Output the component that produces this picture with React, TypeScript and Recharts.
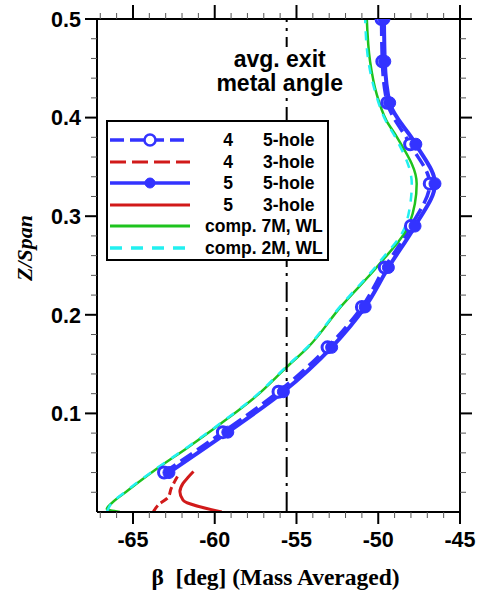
import React from 'react';
import { ComposedChart, Line, XAxis, YAxis, ReferenceLine, Legend } from 'recharts';

// probe traverse stations (Z/Span) and mass averaged exit angle (deg)
const Z_PROBE = [0.04, 0.081, 0.122, 0.167, 0.208, 0.248, 0.29, 0.333, 0.373, 0.415, 0.457, 0.5];
const BETA_4_5HOLE = [-63.1, -59.5, -56.1, -53.1, -51.0, -49.6, -48.0, -46.85, -48.05, -49.45, -49.75, -49.8];
const BETA_5_5HOLE = [-62.8, -59.2, -55.8, -52.85, -50.8, -49.38, -47.75, -46.53, -47.7, -49.3, -49.6, -49.65];

const Z_4_3HOLE = [0, 0.007, 0.015, 0.024, 0.03, 0.039];
const BETA_4_3HOLE = [-63.76, -63.46, -62.85, -62.66, -62.48, -62.17];
const Z_5_3HOLE = [0, 0.012, 0.0205, 0.029, 0.035, 0.041];
const BETA_5_3HOLE = [-59.57, -61.94, -62.13, -61.94, -61.64, -61.3];

const Z_COMP_7M = [0, 0.003, 0.009, 0.022, 0.0425, 0.066, 0.09, 0.117, 0.147, 0.167, 0.208, 0.252, 0.292, 0.333, 0.38, 0.397, 0.424, 0.457, 0.5];
const BETA_COMP_7M = [-65.8, -66.6, -66.3, -65.3, -63.65, -61.6, -59.6, -57.5, -55.6, -54.3, -52.3, -49.9, -48.1, -47.65, -48.85, -49.5, -50.1, -50.5, -50.7];
const Z_COMP_2M = [0, 0.009, 0.022, 0.0425, 0.066, 0.09, 0.117, 0.147, 0.167, 0.208, 0.252, 0.292, 0.333, 0.38, 0.397, 0.424, 0.457, 0.5];
const BETA_COMP_2M = [-66.6, -66.3, -65.35, -63.7, -61.65, -59.65, -57.55, -55.65, -54.35, -52.35, -50.0, -48.3, -47.95, -48.95, -49.55, -50.15, -50.6, -50.8];

const METAL_ANGLE = -55.6;

const X_MAJOR = [-65, -60, -55, -50, -45];
const X_MINOR = [-67, -66, -64, -63, -62, -61, -59, -58, -57, -56, -54, -53, -52, -51, -49, -48, -47, -46];
const Y_MAJOR = [0.1, 0.2, 0.3, 0.4, 0.5];
const Y_MINOR = [0.02, 0.04, 0.06, 0.08, 0.12, 0.14, 0.16, 0.18, 0.22, 0.24, 0.26, 0.28, 0.32, 0.34, 0.36, 0.38, 0.42, 0.44, 0.46, 0.48];

const BLUE = '#3333ff';
const RED = '#d11a1a';
const GREEN = '#1ec31e';
const CYAN = '#22f0f0';
const SANS = '"Liberation Sans", Arial, sans-serif';
const SERIF = '"Liberation Serif", "Times New Roman", serif';

const zip = (z: number[], v: number[]) => z.map((zz, i) => ({ z: zz, v: v[i] }));

const X_TICKS = [...X_MINOR, ...X_MAJOR].sort((a, b) => a - b);
const Y_TICKS = [...Y_MINOR, ...Y_MAJOR].sort((a, b) => a - b);

const isMajor = (list: number[], v: number) => list.some((m) => Math.abs(m - v) < 1e-9);
const MAJ = 12;
const MIN = 6;
const tickText = { fontFamily: SANS, fontWeight: 700, fontSize: 21.5, fill: '#000' };

function BottomTick({ x, y, payload }: any) {
  const major = isMajor(X_MAJOR, payload.value);
  return (
    <g>
      <line x1={x} x2={x} y1={y} y2={y + (major ? MAJ : MIN)} stroke={major ? '#000' : '#555'} strokeWidth={major ? 2 : 1} />
      {major && (
        <text x={x} y={y + 35} textAnchor="middle" style={tickText}>
          {payload.value}
        </text>
      )}
    </g>
  );
}

function TopTick({ x, y, payload }: any) {
  const major = isMajor(X_MAJOR, payload.value);
  return <line x1={x} x2={x} y1={y} y2={y - (major ? MAJ + 2 : MIN)} stroke={major ? '#000' : '#555'} strokeWidth={major ? 2 : 1} />;
}

function LeftTick({ x, y, payload }: any) {
  const major = isMajor(Y_MAJOR, payload.value);
  return (
    <g>
      <line x1={x} x2={x - (major ? MAJ : MIN)} y1={y} y2={y} stroke={major ? '#000' : '#555'} strokeWidth={major ? 2 : 1} />
      {major && (
        <text x={x - 16} y={y} dy="0.36em" textAnchor="end" style={tickText}>
          {payload.value}
        </text>
      )}
    </g>
  );
}

function RightTick({ x, y, payload }: any) {
  const major = isMajor(Y_MAJOR, payload.value);
  return <line x1={x} x2={x + (major ? MAJ : MIN)} y1={y} y2={y} stroke={major ? '#000' : '#555'} strokeWidth={major ? 2 : 1} />;
}

function MetalLabel(props: any) {
  const vb = props.viewBox || {};
  const cx = vb.x ?? 287;
  const top = vb.y ?? 19;
  const style = { fontFamily: SANS, fontWeight: 700, fontSize: 23, fill: '#000' };
  return (
    <g>
      <rect x={cx - 62} y={top + 28} width={124} height={50} fill="#fff" />
      <text x={cx - 7} y={top + 48} textAnchor="middle" style={style}>avg. exit</text>
      <text x={cx - 7} y={top + 72} textAnchor="middle" style={style}>metal angle</text>
    </g>
  );
}

const LEGEND_ROWS = [
  { num: '4', label: '5-hole', color: BLUE, dash: '14 6', width: 3.5, marker: 'hollow' },
  { num: '4', label: '3-hole', color: RED, dash: '16 6', width: 3, marker: '' },
  { num: '5', label: '5-hole', color: BLUE, dash: '', width: 3.5, marker: 'filled' },
  { num: '5', label: '3-hole', color: RED, dash: '', width: 3, marker: '' },
  { num: '', label: 'comp. 7M, WL', color: GREEN, dash: '', width: 3, marker: '' },
  { num: '', label: 'comp. 2M, WL', color: CYAN, dash: '12 9', width: 3.5, marker: '' },
];

function LegendBox() {
  return (
    <div
      style={{
        width: 223,
        height: 141,
        boxSizing: 'border-box',
        border: '2px solid #000',
        background: '#fff',
        position: 'relative',
        fontFamily: SANS,
        fontWeight: 700,
        fontSize: 17.5,
        color: '#000',
      }}
    >
      {LEGEND_ROWS.map((r, i) => {
        const cy = 18 + i * 21.6;
        return (
          <div key={i} style={{ position: 'absolute', left: 0, top: cy - 11, width: 219, height: 22, lineHeight: '22px' }}>
            <svg width={84} height={22} style={{ position: 'absolute', left: 2, top: 0 }}>
              <line x1={0} x2={80} y1={11} y2={11} stroke={r.color} strokeWidth={r.width} strokeDasharray={r.dash || undefined} />
              {r.marker === 'hollow' && <circle cx={40} cy={11} r={5.5} fill="#fff" stroke={r.color} strokeWidth={2.5} />}
              {r.marker === 'filled' && <circle cx={40} cy={11} r={5} fill={r.color} stroke={r.color} />}
            </svg>
            {r.num ? (
              <>
                <span style={{ position: 'absolute', left: 110, width: 20, textAlign: 'center' }}>{r.num}</span>
                <span style={{ position: 'absolute', left: 155, whiteSpace: 'nowrap' }}>{r.label}</span>
              </>
            ) : (
              <span style={{ position: 'absolute', left: 97, whiteSpace: 'nowrap' }}>{r.label}</span>
            )}
          </div>
        );
      })}
    </div>
  );
}

export default function App() {
  const domainX: [number, number] = [-67.2, -45];
  const domainY: [number, number] = [0, 0.5];
  const axisLine = { stroke: '#000', strokeWidth: 2 };
  return (
    <div style={{ position: 'absolute', left: 0, top: 0, width: 484, height: 592, background: '#fff' }}>
      <ComposedChart width={484} height={592} layout="vertical" margin={{ top: 7, right: 12, bottom: 0, left: 0 }}>
        <XAxis
          xAxisId="b"
          type="number"
          orientation="bottom"
          domain={domainX}
          allowDataOverflow
          ticks={X_TICKS}
          interval={0}
          tickSize={0}
          tickMargin={0}
          tickLine={false}
          tick={<BottomTick />}
          axisLine={axisLine}
          height={80}
          label={{
            value: 'β\u00a0\u00a0[deg] (Mass Averaged)',
            position: 'insideBottom',
            offset: 7,
            dx: -3,
            style: { fontFamily: SERIF, fontWeight: 700, fontSize: 23.5, fill: '#000' },
          }}
        />
        <XAxis
          xAxisId="t"
          type="number"
          orientation="top"
          domain={domainX}
          allowDataOverflow
          ticks={X_TICKS}
          interval={0}
          tickSize={0}
          tickMargin={0}
          tickLine={false}
          tick={<TopTick />}
          axisLine={axisLine}
          height={12}
        />
        <YAxis
          yAxisId="l"
          type="number"
          dataKey="z"
          orientation="left"
          domain={domainY}
          reversed
          allowDataOverflow
          ticks={Y_TICKS}
          interval={0}
          tickSize={0}
          tickMargin={0}
          tickLine={false}
          tick={<LeftTick />}
          axisLine={axisLine}
          width={97}
          label={{
            content: () => (
              <text
                x={24}
                y={248}
                transform="rotate(-90 24 248)"
                textAnchor="middle"
                dominantBaseline="central"
                style={{ fontFamily: SERIF, fontWeight: 700, fontStyle: 'italic', fontSize: 22, fill: '#000' }}
              >
                Z/Span
              </text>
            ),
          }}
        />
        <YAxis
          yAxisId="r"
          type="number"
          dataKey="z"
          orientation="right"
          domain={domainY}
          reversed
          allowDataOverflow
          ticks={Y_TICKS}
          interval={0}
          tickSize={0}
          tickMargin={0}
          tickLine={false}
          tick={<RightTick />}
          axisLine={axisLine}
          width={12}
        />
        <Legend
          layout="vertical"
          align="center"
          verticalAlign="middle"
          wrapperStyle={{ left: 106, top: 120, width: 223, height: 141 }}
          content={() => <LegendBox />}
        />
        {/* invisible series so the mirrored top/right frame axes get drawn */}
        <Line
          xAxisId="t"
          yAxisId="r"
          data={zip(Z_COMP_7M, BETA_COMP_7M)}
          dataKey="v"
          stroke="none"
          dot={false}
          activeDot={false}
          legendType="none"
          isAnimationActive={false}
        />
        <Line
          xAxisId="b"
          yAxisId="l"
          data={zip(Z_PROBE, BETA_4_5HOLE)}
          dataKey="v"
          name="4 5-hole"
          type="monotone"
          stroke={BLUE}
          strokeWidth={3.5}
          strokeDasharray="14 6"
          dot={{ r: 5.5, fill: '#fff', stroke: BLUE, strokeWidth: 3, strokeDasharray: 'none' }}
          isAnimationActive={false}
        />
        <Line
          xAxisId="b"
          yAxisId="l"
          data={zip(Z_4_3HOLE, BETA_4_3HOLE)}
          dataKey="v"
          name="4 3-hole"
          type="monotone"
          stroke={RED}
          strokeWidth={3}
          strokeDasharray="8 4"
          dot={false}
          isAnimationActive={false}
        />
        <Line
          xAxisId="b"
          yAxisId="l"
          data={zip(Z_PROBE, BETA_5_5HOLE)}
          dataKey="v"
          name="5 5-hole"
          type="monotone"
          stroke={BLUE}
          strokeWidth={4}
          dot={{ r: 6, fill: BLUE, stroke: BLUE, strokeWidth: 1 }}
          isAnimationActive={false}
        />
        <Line
          xAxisId="b"
          yAxisId="l"
          data={zip(Z_5_3HOLE, BETA_5_3HOLE)}
          dataKey="v"
          name="5 3-hole"
          type="monotone"
          stroke={RED}
          strokeWidth={3}
          dot={false}
          isAnimationActive={false}
        />
        <Line
          xAxisId="b"
          yAxisId="l"
          data={zip(Z_COMP_7M, BETA_COMP_7M)}
          dataKey="v"
          name="comp. 7M, WL"
          type="monotone"
          stroke={GREEN}
          strokeWidth={2.5}
          dot={false}
          isAnimationActive={false}
        />
        <Line
          xAxisId="b"
          yAxisId="l"
          data={zip(Z_COMP_2M, BETA_COMP_2M)}
          dataKey="v"
          name="comp. 2M, WL"
          type="monotone"
          stroke={CYAN}
          strokeWidth={2.5}
          strokeDasharray="9 8"
          dot={false}
          isAnimationActive={false}
        />
        <ReferenceLine
          xAxisId="b"
          yAxisId="l"
          x={METAL_ANGLE}
          stroke="#000"
          strokeWidth={2}
          strokeDasharray="20 6 3 6"
          label={(p: any) => <MetalLabel {...p} />}
        />
      </ComposedChart>
    </div>
  );
}
